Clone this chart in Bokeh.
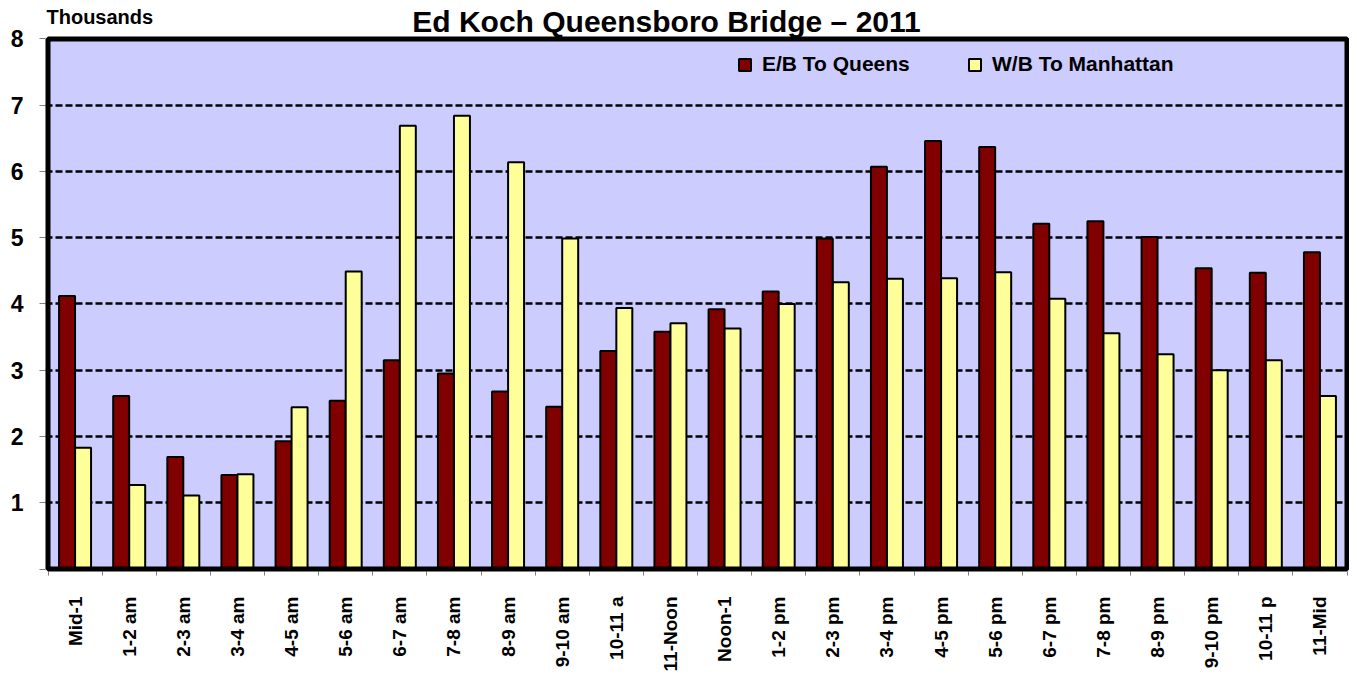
import math
from bokeh.plotting import figure
from bokeh.models import (ColumnDataSource, Range1d, FixedTicker, Label,
                          Legend, LegendItem)
from bokeh.transform import dodge
from bokeh.embed import file_html
from bokeh.resources import INLINE

# ---- data (thousands of vehicles) ----
hours = ["Mid-1", "1-2 am", "2-3 am", "3-4 am", "4-5 am", "5-6 am", "6-7 am",
         "7-8 am", "8-9 am", "9-10 am", "10-11 a", "11-Noon", "Noon-1", "1-2 pm",
         "2-3 pm", "3-4 pm", "4-5 pm", "5-6 pm", "6-7 pm", "7-8 pm", "8-9 pm",
         "9-10 pm", "10-11 p", "11-Mid"]
eb_to_queens = [4.12, 2.61, 1.69, 1.42, 1.93, 2.54, 3.15, 2.95, 2.68, 2.45, 3.29, 3.58,
                3.92, 4.19, 4.99, 6.07, 6.46, 6.37, 5.21, 5.25, 5.01, 4.54, 4.47, 4.78]
wb_to_manhattan = [1.83, 1.27, 1.11, 1.43, 2.44, 4.49, 6.69, 6.84, 6.14, 4.99, 3.94, 3.71,
                   3.63, 4.00, 4.33, 4.38, 4.39, 4.48, 4.08, 3.56, 3.24, 3.00, 3.15, 2.61]
y_ticks = [0, 1, 2, 3, 4, 5, 6, 7, 8]

title_text = "Ed Koch Queensboro Bridge \u2013 2011"
unit_text = "Thousands"
series_names = ["E/B To Queens", "W/B To Manhattan"]

FONT = "Liberation Sans"
DARK = "#800000"
LIGHT = "#FFFF99"
PLOT_BG = "#CCCCFF"

n = len(hours)
y_max = y_ticks[-1]
src = ColumnDataSource(dict(
    x=[i + 0.5 for i in range(n)],
    eb=eb_to_queens,
    wb=wb_to_manhattan,
))

# frame extends a little past the plot area (so the thick border fits) and up
# to the top of the figure (so the heading texts live inside the frame)
W, H = 1349, 674
LEFT, BOTTOM = 45, 95
px_x = (W - LEFT - 5) / n              # px per category
px_y = (H - BOTTOM - 2.5 - 39) / y_max   # px per thousand
pad_x = 2.5 / px_x
pad_y = 2.5 / px_y
y_top = (H - BOTTOM - 2.5) / px_y

p = figure(width=W, height=H,
           x_range=Range1d(-pad_x, n + pad_x),
           y_range=Range1d(-pad_y, y_top),
           output_backend="svg", toolbar_location=None, title=None,
           min_border_left=LEFT, min_border_right=0, min_border_top=0,
           min_border_bottom=BOTTOM)

p.background_fill_color = "white"
p.border_fill_color = "white"
p.outline_line_color = None

# plot area background (under the grid)
p.quad(left=0, right=n, bottom=0, top=y_max, fill_color=PLOT_BG, line_color=None,
       level="image")

# grid
p.xgrid.visible = False
p.ygrid.ticker = FixedTicker(ticks=y_ticks[1:-1])
p.ygrid.grid_line_color = "black"
p.ygrid.grid_line_width = 2.5
p.ygrid.grid_line_dash = "7 3"

# y axis
p.yaxis.ticker = FixedTicker(ticks=y_ticks)
p.yaxis.major_label_overrides = {0: ""}
p.yaxis.axis_line_color = None
p.yaxis.major_tick_out = 6
p.yaxis.major_tick_in = 0
p.yaxis.major_tick_line_color = "#808080"
p.yaxis.minor_tick_line_color = None
p.yaxis.major_label_standoff = 16
p.yaxis.major_label_text_font = FONT
p.yaxis.major_label_text_font_style = "bold"
p.yaxis.major_label_text_font_size = "23px"
p.yaxis.major_label_text_color = "black"

# x axis: labels at category centres, ticks at category boundaries
centers = [i + 0.5 for i in range(n)]
p.xaxis.ticker = FixedTicker(ticks=centers, minor_ticks=list(range(n + 1)))
p.xaxis.major_label_overrides = {c: h for c, h in zip(centers, hours)}
p.xaxis.major_label_orientation = math.pi / 2
p.xaxis.axis_line_color = None
p.xaxis.major_tick_line_color = None
p.xaxis.major_tick_out = 0
p.xaxis.major_tick_in = 0
p.xaxis.minor_tick_out = 4
p.xaxis.minor_tick_in = 0
p.xaxis.minor_tick_line_color = "#808080"
p.xaxis.major_label_standoff = 21
p.xaxis.major_label_text_font = FONT
p.xaxis.major_label_text_font_style = "bold"
p.xaxis.major_label_text_font_size = "19px"
p.xaxis.major_label_text_color = "black"

r_eb = p.vbar(x=dodge("x", -0.148), top="eb", width=0.295, bottom=0, source=src,
              fill_color=DARK, line_color="black", line_width=2)
r_wb = p.vbar(x=dodge("x", 0.148), top="wb", width=0.295, bottom=0, source=src,
              fill_color=LIGHT, line_color="black", line_width=2)

# thick border round the plot area
p.quad(left=0, right=n, bottom=0, top=y_max, fill_color=None, line_color="black",
       line_width=5, level="overlay")

p.add_layout(Label(x=11.427, y=8.27, text=title_text, text_align="center",
                   text_baseline="alphabetic", text_font=FONT, text_font_style="bold",
                   text_font_size="30px", text_color="black"))
p.add_layout(Label(x=-0.028, y=8.33, text=unit_text, text_align="left",
                   text_baseline="alphabetic", text_font=FONT, text_font_style="bold",
                   text_font_size="20px", text_color="black"))

for name, rend, lx in [(series_names[0], r_eb, 692), (series_names[1], r_wb, 922)]:
    lg = Legend(items=[LegendItem(label=name, renderers=[rend])], location=(lx, 495),
                orientation="horizontal", glyph_width=15, glyph_height=15,
                label_standoff=10, padding=0, margin=0, spacing=0,
                border_line_color=None, background_fill_alpha=0,
                label_text_font=FONT, label_text_font_style="bold",
                label_text_font_size="21px", label_text_color="black")
    p.add_layout(lg)

open("out.html", "w").write(file_html(p, INLINE))
